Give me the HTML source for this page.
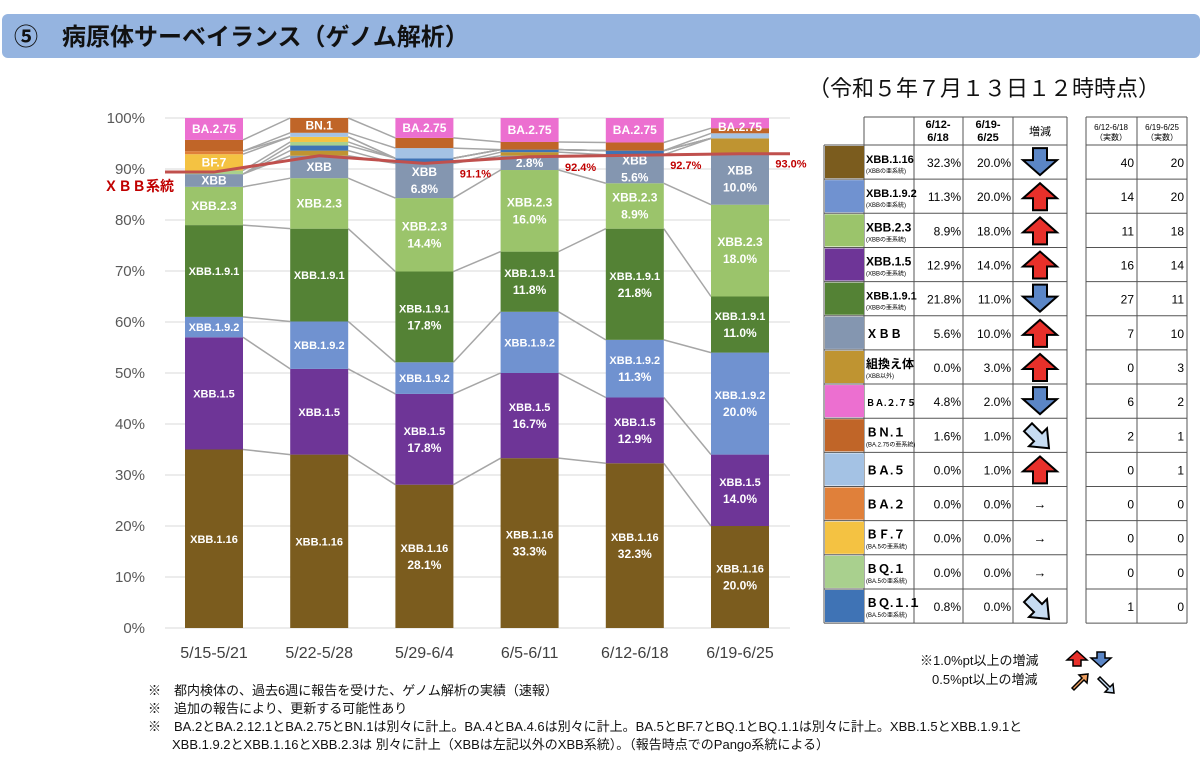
<!DOCTYPE html>
<html><head><meta charset="utf-8"><style>
body{margin:0;background:#fff;}
svg{display:block;font-family:"Liberation Sans","Noto Sans CJK JP",sans-serif;}
</style></head><body>
<svg id="s" width="1200" height="758" viewBox="0 0 1200 758">
<rect x="2" y="14" width="1198" height="44" rx="6" fill="#95b4e0"/>
<text x="14" y="45" font-size="24" font-weight="bold" fill="#111">⑤　病原体サーベイランス（ゲノム解析）</text>
<text x="808" y="96" font-size="22" fill="#111">（令和５年７月１３日１２時時点）</text>
<g id="chart"></g>
<g id="tbl"></g>
<g>
<text x="920" y="665" font-size="13" fill="#111">※1.0%pt以上の増減</text>
<path d="M1073 666 l0 -6 -6 0 10 -9 10 9 -6 0 0 6z" fill="#e8302a" stroke="#000" stroke-width="1.5"/>
<path d="M1097 652 l0 6 -6 0 10 9 10 -9 -6 0 0 -6z" fill="#5b86c6" stroke="#000" stroke-width="1.5"/>
<text x="932" y="684" font-size="13" fill="#111">0.5%pt以上の増減</text>
<path d="M1072 688 l10 -10 -3 -3 9 -1 -1 9 -3 -3 -10 10z" fill="#f0a060" stroke="#000" stroke-width="1.5"/>
<path d="M1100 677 l10 10 3 -3 1 9 -9 -1 3 -3 -10 -10z" fill="#c7dcf2" stroke="#000" stroke-width="1.5"/>
</g>
<g font-size="13" fill="#111">
<text x="148" y="695">※　都内検体の、過去6週に報告を受けた、ゲノム解析の実績（速報）</text>
<text x="148" y="713">※　追加の報告により、更新する可能性あり</text>
<text x="148" y="731">※　BA.2とBA.2.12.1とBA.2.75とBN.1は別々に計上。BA.4とBA.4.6は別々に計上。BA.5とBF.7とBQ.1とBQ.1.1は別々に計上。XBB.1.5とXBB.1.9.1と</text>
<text x="172" y="749">XBB.1.9.2とXBB.1.16とXBB.2.3は 別々に計上（XBBは左記以外のXBB系統）。（報告時点でのPango系統による）</text>
</g>
</svg>
<script>
const categories=["5/15-5/21","5/22-5/28","5/29-6/4","6/5-6/11","6/12-6/18","6/19-6/25"];
const seriesNames=["XBB.1.16","XBB.1.5","XBB.1.9.2","XBB.1.9.1","XBB.2.3","XBB","組換え体","BQ.1.1","BQ.1","BF.7","BA.2","BA.5","BN.1","BA.2.75"];
const seriesColors=["#7b5c1e","#6e3597","#7092d0","#548235","#9bc46b","#8496b0","#bf9431","#3f73b5","#a9d08e","#f4c242","#e0803a","#a4c2e4","#c06528","#ec6fd0"];
const s_XBB1_16=[35,34,28.1,33.3,32.3,20];
const s_XBB1_5=[22,16.8,17.8,16.7,12.9,14];
const s_XBB1_9_2=[4,9.3,6.2,12,11.3,20];
const s_XBB1_9_1=[18,18.2,17.8,11.8,21.8,11];
const s_XBB2_3=[7.5,9.9,14.4,16,8.9,18];
const s_XBB=[2.5,4.4,6.8,2.8,5.6,10];
const s_recomb=[0,1,0,0.7,0,3];
const s_BQ1_1=[0,1,1,0.5,0.8,0];
const s_BQ1=[0.7,0.7,0,0,0,0];
const s_BF7=[3.2,1,0,0,0,0];
const s_BA2=[0.6,0,0,0,0,0];
const s_BA5=[0,0.8,2,0,0,1];
const s_BN1=[2.2,2.9,2,1.5,1.6,1];
const s_BA275=[4.3,0,3.9,4.7,4.8,2];
const xbbLine=[89.4,92.6,91.1,92.4,92.7,93.0];
const xbbLineLabels=["","","91.1%","92.4%","92.7%","93.0%"];
const yTicks=[0,10,20,30,40,50,60,70,80,90,100];
const series=[s_XBB1_16,s_XBB1_5,s_XBB1_9_2,s_XBB1_9_1,s_XBB2_3,s_XBB,s_recomb,s_BQ1_1,s_BQ1,s_BF7,s_BA2,s_BA5,s_BN1,s_BA275];
const barLabels=[
[0,0,["XBB.1.16"]],[0,1,["XBB.1.5"]],[0,2,["XBB.1.9.2"]],[0,3,["XBB.1.9.1"]],[0,4,["XBB.2.3"]],[0,5,["XBB"]],[0,9,["BF.7"]],[0,13,["BA.2.75"]],
[1,0,["XBB.1.16"]],[1,1,["XBB.1.5"]],[1,2,["XBB.1.9.2"]],[1,3,["XBB.1.9.1"]],[1,4,["XBB.2.3"]],[1,5,["XBB"]],[1,12,["BN.1"]],
[2,0,["XBB.1.16","28.1%"]],[2,1,["XBB.1.5","17.8%"]],[2,2,["XBB.1.9.2"]],[2,3,["XBB.1.9.1","17.8%"]],[2,4,["XBB.2.3","14.4%"]],[2,5,["XBB","6.8%"]],[2,13,["BA.2.75"]],
[3,0,["XBB.1.16","33.3%"]],[3,1,["XBB.1.5","16.7%"]],[3,2,["XBB.1.9.2"]],[3,3,["XBB.1.9.1","11.8%"]],[3,4,["XBB.2.3","16.0%"]],[3,5,["2.8%"]],[3,13,["BA.2.75"]],
[4,0,["XBB.1.16","32.3%"]],[4,1,["XBB.1.5","12.9%"]],[4,2,["XBB.1.9.2","11.3%"]],[4,3,["XBB.1.9.1","21.8%"]],[4,4,["XBB.2.3","8.9%"]],[4,5,["XBB","5.6%"]],[4,13,["BA.2.75"]],
[5,0,["XBB.1.16","20.0%"]],[5,1,["XBB.1.5","14.0%"]],[5,2,["XBB.1.9.2","20.0%"]],[5,3,["XBB.1.9.1","11.0%"]],[5,4,["XBB.2.3","18.0%"]],[5,5,["XBB","10.0%"]],[5,13,["BA.2.75"]]
];
const NS="http://www.w3.org/2000/svg";
function mk(tag,attrs,parent,txt){const e=document.createElementNS(NS,tag);for(const k in attrs)e.setAttribute(k,attrs[k]);if(txt!==undefined)e.textContent=txt;parent.appendChild(e);return e;}
const chart=document.getElementById('chart');
const Y0=628,Y1=118,X0=165,X1=790;
const y=v=>Y0-(Y0-Y1)*v/100;
const xc=i=>214+i*105.2;
const BW=58;
yTicks.forEach(t=>{
  const l=mk('line',{x1:X0,x2:X1,y1:y(t),y2:y(t),stroke:'#d9d9d9','stroke-width':1},chart);
  
  
  const tx=mk('text',{x:145,y:y(t)+5,'font-size':15,fill:'#595959','text-anchor':'end'},chart,t+'%');
  
  
});
const cum=categories.map((c,i)=>{let a=[0];series.forEach(s=>a.push(a[a.length-1]+s[i]));return a;});
const conn=mk('g',{},chart);


for(let i=0;i<categories.length-1;i++){
  for(let k=1;k<series.length;k++){
    mk('line',{x1:xc(i)+BW/2,y1:y(cum[i][k]),x2:xc(i+1)-BW/2,y2:y(cum[i+1][k]),stroke:'#a6a6a6','stroke-width':1.5},conn);
  }
}
categories.forEach((c,i)=>{
  series.forEach((s,k)=>{
    if(s[i]<=0)return;
    const r=mk('rect',{x:xc(i)-BW/2,y:y(cum[i][k+1]),width:BW,height:y(cum[i][k])-y(cum[i][k+1]),fill:seriesColors[k]},chart);
    
    
  });
  const t=mk('text',{x:xc(i),y:658,'font-size':16,fill:'#404040','text-anchor':'middle'},chart,c);
  
  
});
barLabels.forEach(([w,k,lines])=>{
  let mid=(y(cum[w][k])+y(cum[w][k+1]))/2;
  if(k===13) mid=Math.max(mid,y(cum[w][k+1])+9);
  const n=lines.length;
  lines.forEach((ln,j)=>{
    const fs=ln.indexOf('%')>=0?12:(k>=4?12:11);
    const t=mk('text',{x:xc(w),y:mid+4+(j-(n-1)/2)*17,'font-size':fs,'font-weight':'bold',fill:'#fff','text-anchor':'middle'},chart,ln);
    
    
  });
});
const pts=xbbLine.map((v,i)=>[xc(i),y(v)]);
const d='M'+X0+' '+pts[0][1]+' L'+pts.map(p=>p[0]+' '+p[1]).join(' L')+' L'+X1+' '+pts[5][1];
const pl=mk('path',{d:d,fill:'none',stroke:'#c0504d','stroke-width':3},chart);


xbbLineLabels.forEach((lb,i)=>{
  if(!lb)return;
  const t=mk('text',{x:xc(i)+BW/2+22,y:y(xbbLine[i])+14,'font-size':11,'font-weight':'bold',fill:'#c00000','text-anchor':'middle'},chart,lb);
  
  
});
const xl=mk('text',{x:104,y:191,'font-size':14,'font-weight':'bold',fill:'#c00000'},chart,'ＸＢＢ系統');



const tbl=document.getElementById('tbl');
const rows=[
["XBB.1.16","(XBBの亜系統)","32.3%","20.0%","down",40,20],
["XBB.1.9.2","(XBBの亜系統)","11.3%","20.0%","up",14,20],
["XBB.2.3","(XBBの亜系統)","8.9%","18.0%","up",11,18],
["XBB.1.5","(XBBの亜系統)","12.9%","14.0%","up",16,14],
["XBB.1.9.1","(XBBの亜系統)","21.8%","11.0%","down",27,11],
["ＸＢＢ","","5.6%","10.0%","up",7,10],
["組換え体","(XBB以外)","0.0%","3.0%","up",0,3],
["ＢＡ.２.７５","","4.8%","2.0%","down",6,2],
["ＢＮ.１","(BA.2.75の亜系統)","1.6%","1.0%","sdown",2,1],
["ＢＡ.５","","0.0%","1.0%","up",0,1],
["ＢＡ.２","","0.0%","0.0%","flat",0,0],
["ＢＦ.７","(BA.5の亜系統)","0.0%","0.0%","flat",0,0],
["ＢＱ.１","(BA.5の亜系統)","0.0%","0.0%","flat",0,0],
["ＢＱ.１.１","(BA.5の亜系統)","0.8%","0.0%","sdown",1,0]];
const swColors=["#7b5c1e","#7092d0","#9bc46b","#6e3597","#548235","#8496b0","#bf9431","#ec6fd0","#c06528","#a4c2e4","#e0803a","#f4c242","#a9d08e","#3f73b5"];
const TX=[824,864,914,963,1013,1067],TY0=117,HR=28,RH=34.15;
const ln=(x1,y1,x2,y2)=>mk('line',{x1,y1,x2,y2,stroke:'#555','stroke-width':1},tbl);
const T2=[1086,1137,1187];
mk('text',{x:938,y:128,'font-size':11,'font-weight':'bold','text-anchor':'middle'},tbl,'6/12-');
mk('text',{x:938,y:141,'font-size':11,'font-weight':'bold','text-anchor':'middle'},tbl,'6/18');
mk('text',{x:988,y:128,'font-size':11,'font-weight':'bold','text-anchor':'middle'},tbl,'6/19-');
mk('text',{x:988,y:141,'font-size':11,'font-weight':'bold','text-anchor':'middle'},tbl,'6/25');
mk('text',{x:1040,y:135,'font-size':11,'text-anchor':'middle'},tbl,'増減');
mk('text',{x:1111,y:130,'font-size':8,'text-anchor':'middle'},tbl,'6/12-6/18');
mk('text',{x:1111,y:140,'font-size':8,'text-anchor':'middle'},tbl,'（実数）');
mk('text',{x:1162,y:130,'font-size':8,'text-anchor':'middle'},tbl,'6/19-6/25');
mk('text',{x:1162,y:140,'font-size':8,'text-anchor':'middle'},tbl,'（実数）');
const TYE=TY0+HR+RH*14;
ln(TX[1],TY0,TX[5],TY0);ln(T2[0],TY0,T2[2],TY0);
for(let r=0;r<=14;r++){const yy=TY0+HR+r*RH;ln(TX[0],yy,TX[5],yy);ln(T2[0],yy,T2[2],yy);}
TX.forEach((x,i)=>ln(x,i===0?TY0+HR:TY0,x,TYE));
T2.forEach(x=>ln(x,TY0,x,TYE));
rows.forEach((r,i)=>{
  const top=TY0+HR+i*RH, cy=top+RH/2;
  const g=mk('g',{},tbl);
  
  
  mk('rect',{x:TX[0]+1,y:top+1,width:39,height:RH-2,fill:swColors[i]},g);
  let fs=12;
  if(/^[A-Z]/.test(r[0])) fs=r[0].length>7?11:12;
  if(r[0]==='ＢＡ.２.７５') fs=9;
  mk('text',{x:866,y:r[1]?cy+1:cy+5,'font-size':fs,'font-weight':'bold'},g,r[0]);
  if(r[1])mk('text',{x:866,y:cy+11,'font-size':6},g,r[1]);
  mk('text',{x:961,y:cy+5,'font-size':12,'text-anchor':'end'},g,r[2]);
  mk('text',{x:1011,y:cy+5,'font-size':12,'text-anchor':'end'},g,r[3]);
  mk('text',{x:1134,y:cy+5,'font-size':12,'text-anchor':'end'},g,String(r[5]));
  mk('text',{x:1184,y:cy+5,'font-size':12,'text-anchor':'end'},g,String(r[6]));
  const ax=1040;
  if(r[4]==='up')mk('path',{d:`M${ax-7} ${cy+14} v-12 h-10 l17 -15 17 15 h-10 v12z`,fill:'#e8302a',stroke:'#000','stroke-width':2},g);
  else if(r[4]==='down')mk('path',{d:`M${ax-7} ${cy-14} v12 h-10 l17 15 17 -15 h-10 v-12z`,fill:'#5b86c6',stroke:'#000','stroke-width':2},g);
  else if(r[4]==='sdown')mk('path',{d:`M${ax-16} ${cy-4} l8 -8 10 10 5 -5 2 20 -20 -2 5 -5z`,fill:'#c7dcf2',stroke:'#000','stroke-width':2},g);
  else mk('text',{x:ax,y:cy+5,'font-size':13,'text-anchor':'middle'},g,'→');
});
</script>
</body></html>
